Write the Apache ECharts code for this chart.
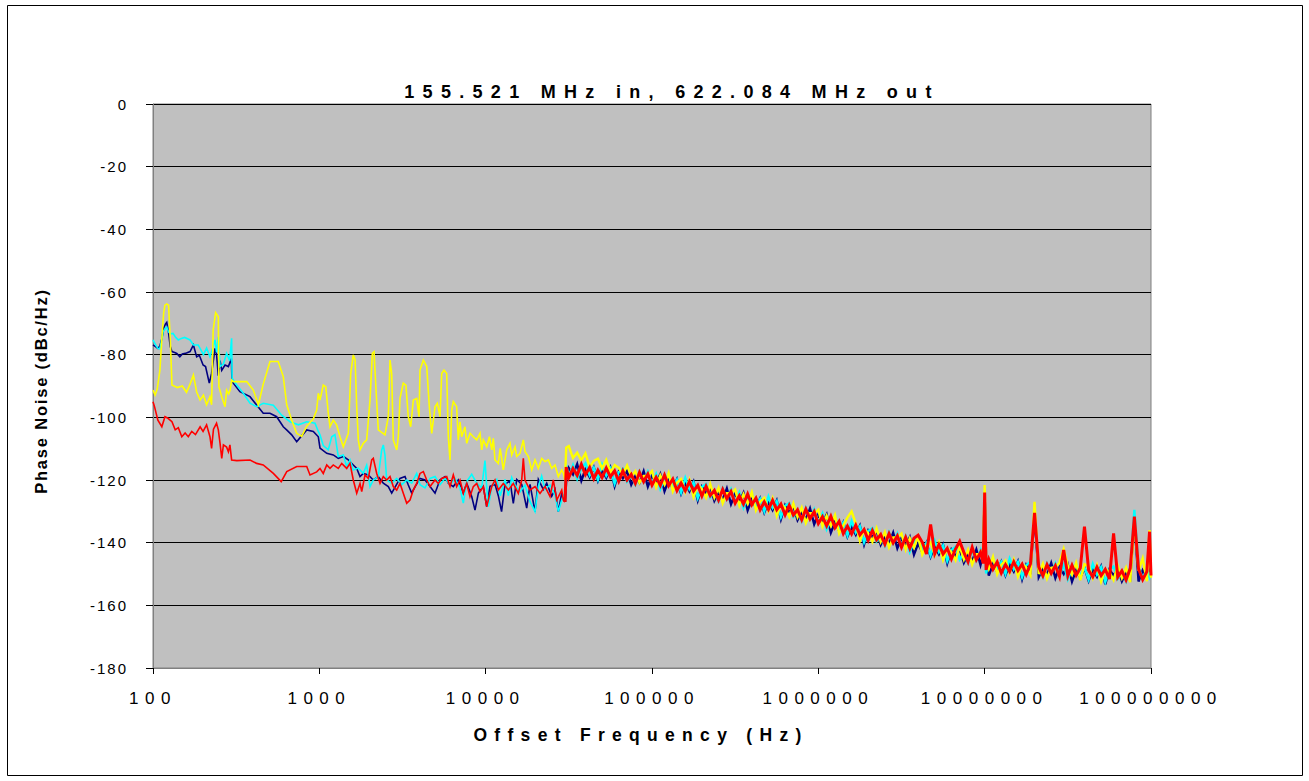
<!DOCTYPE html>
<html>
<head>
<meta charset="utf-8">
<script src="https://cdn.jsdelivr.net/npm/echarts@6/dist/echarts.min.js"></script>
<style>
html,body{margin:0;padding:0;background:#fff;}
#chart{width:1309px;height:781px;}
</style>
</head>
<body>
<div id="chart"></div>
<script>
const titleText = '155.521 MHz in, 622.084 MHz out';
const xAxisTitle = 'Offset Frequency (Hz)';
const yAxisTitle = 'Phase Noise (dBc/Hz)';
const xTickLabels = ['100', '1000', '10000', '100000', '1000000', '10000000', '100000000'];
const yMin = -180, yMax = 0, yStep = 20;

// ---- low-offset traces [Hz, dBc/Hz] ----
const navyLow = [[100,-76.9],[104,-77.5],[107,-78.0],[110,-77.2],[113,-75.0],[116,-71.5],[119,-70.2],[121,-69.7],[124,-73.0],[127,-77.4],[130,-79.0],[135,-79.3],[139,-79.6],[145,-80.7],[150,-79.8],[159,-79.5],[167,-79.0],[175,-76.9],[183,-80.7],[190,-80.2],[200,-83.3],[207,-83.8],[218,-89.1],[225,-86.0],[236,-78.0],[241,-79.8],[247,-86.7],[253,-81.9],[259,-85.0],[271,-83.3],[284,-83.8],[296,-81.2],[298,-87.5],[304,-89.1],[333,-91.8],[383,-93.4],[420,-96.1],[460,-98.7],[505,-98.7],[554,-99.8],[607,-103.0],[636,-104.0],[682,-105.6],[731,-107.8],[780,-106.0],[840,-104.0],[920,-104.5],[986,-106.2],[1009,-109.8],[1108,-111.5],[1213,-112.0],[1300,-113.1],[1394,-112.5],[1494,-113.6],[1600,-115.2],[1678,-116.3],[1756,-118.9],[1838,-117.9],[1970,-118.4],[2111,-120.0],[2262,-118.9],[2424,-121.0],[2598,-122.1],[2723,-124.2],[2865,-122.1],[3055,-119.5],[3274,-118.9],[3426,-121.6],[3592,-124.2],[3765,-122.1],[4030,-119.5],[4319,-120.0],[4632,-122.1],[4960,-124.2],[5316,-119.9],[5695,-118.9],[5961,-121.0],[6389,-122.1],[6846,-120.0],[7337,-124.2],[7691,-121.0],[8243,-125.3],[8627,-129.6],[9040,-124.2],[9679,-122.1],[10146,-128.5],[10620,-122.0],[11380,-121.4],[11912,-125.0],[12460,-130.1],[13070,-121.3],[14006,-120.3],[14660,-127.5],[15370,-119.8],[16470,-121.4],[17650,-129.0],[18480,-121.4],[19800,-130.1],[20730,-119.8],[22210,-123.0],[23280,-121.0],[24950,-125.2],[26120,-123.0],[27340,-130.1],[28660,-124.2],[29990,-127.0]];

const cyanLow = [[100,-75.3],[104,-77.0],[107,-78.0],[110,-78.2],[113,-75.0],[115,-72.7],[119,-71.5],[121,-71.2],[124,-72.8],[128,-73.3],[132,-73.2],[137,-74.5],[142,-75.3],[148,-74.8],[155,-74.5],[167,-75.3],[175,-76.9],[187,-76.9],[201,-80.0],[210,-77.9],[220,-80.7],[236,-75.3],[241,-79.3],[247,-74.3],[253,-83.8],[265,-83.0],[277,-79.6],[289,-81.9],[297,-74.8],[299,-87.5],[319,-89.7],[349,-92.3],[383,-95.5],[420,-96.6],[460,-95.5],[529,-96.1],[594,-99.3],[666,-101.4],[748,-102.4],[840,-101.4],[942,-101.9],[986,-104.5],[1009,-105.6],[1056,-109.0],[1132,-110.4],[1187,-106.2],[1241,-105.5],[1300,-112.5],[1394,-112.0],[1461,-115.7],[1529,-113.6],[1600,-116.8],[1715,-116.2],[1838,-117.9],[1926,-115.3],[2017,-122.1],[2111,-120.0],[2262,-118.9],[2371,-110.4],[2424,-108.8],[2481,-112.0],[2540,-120.0],[2723,-121.0],[2919,-119.5],[3129,-121.5],[3352,-120.0],[3592,-121.0],[3850,-117.9],[4030,-121.5],[4319,-122.5],[4632,-119.5],[4960,-118.9],[5316,-121.5],[5695,-119.5],[6104,-121.5],[6540,-119.5],[7009,-122.5],[7337,-127.4],[7691,-120.5],[8243,-118.2],[8837,-121.0],[9467,-122.5],[9906,-113.8],[10146,-122.1],[10380,-128.5],[10880,-122.1],[11660,-119.8],[12230,-125.0],[13070,-119.8],[13690,-125.0],[14340,-119.2],[15020,-121.6],[16080,-123.8],[17230,-121.6],[18480,-126.9],[19800,-130.1],[20730,-122.1],[21710,-118.7],[22740,-123.0],[24380,-121.6],[26120,-124.8],[27340,-130.1],[28660,-126.4],[29990,-124.0]];

const yellowLow = [[100,-91.3],[103,-92.9],[106,-91.0],[110,-85.0],[113,-75.0],[116,-66.5],[118,-64.2],[121,-63.8],[124,-64.2],[127,-75.0],[130,-89.7],[140,-90.5],[150,-90.0],[159,-92.0],[167,-89.4],[175,-86.5],[183,-91.9],[192,-94.5],[201,-92.9],[210,-96.0],[220,-93.4],[225,-96.0],[230,-72.1],[238,-66.6],[247,-67.9],[249,-90.2],[259,-93.4],[271,-96.6],[277,-91.3],[285,-92.5],[291,-91.3],[297,-88.1],[304,-88.6],[366,-88.6],[401,-91.3],[430,-96.0],[460,-89.4],[505,-82.2],[566,-82.2],[607,-87.0],[637,-96.0],[682,-100.9],[731,-105.1],[783,-106.1],[840,-102.8],[920,-100.5],[964,-97.7],[986,-92.3],[1009,-94.5],[1056,-89.7],[1093,-90.2],[1132,-98.7],[1159,-103.0],[1213,-100.9],[1270,-102.4],[1331,-106.2],[1394,-109.4],[1494,-105.1],[1544,-86.0],[1600,-80.1],[1640,-81.7],[1678,-96.6],[1715,-107.2],[1756,-110.4],[1838,-108.3],[1926,-107.2],[2017,-94.5],[2083,-79.6],[2132,-79.1],[2192,-91.3],[2262,-104.0],[2371,-104.8],[2481,-105.6],[2598,-99.8],[2660,-81.7],[2723,-86.0],[2784,-107.2],[2919,-110.4],[2985,-106.2],[3055,-93.9],[3197,-89.1],[3315,-89.7],[3426,-99.8],[3542,-103.0],[3673,-94.5],[3850,-94.0],[3975,-99.8],[4030,-84.9],[4219,-81.7],[4422,-83.8],[4584,-96.6],[4738,-105.1],[4960,-96.6],[5121,-95.5],[5316,-99.8],[5442,-86.0],[5617,-84.9],[5831,-86.0],[5961,-106.2],[6104,-113.6],[6249,-97.7],[6389,-95.0],[6690,-96.6],[6846,-107.2],[7009,-101.4],[7170,-106.2],[7511,-103.0],[7691,-108.3],[8050,-105.1],[8427,-106.2],[8837,-107.2],[9247,-105.1],[9467,-110.4],[9679,-107.2],[10146,-109.4],[10530,-106.2],[10880,-110.4],[11115,-106.7],[11380,-113.6],[11912,-114.7],[12230,-109.9],[12764,-116.8],[13380,-110.4],[14006,-108.3],[14340,-112.0],[15020,-109.4],[15370,-112.5],[16080,-111.5],[16843,-107.2],[17230,-110.9],[18060,-112.5],[18918,-116.8],[19800,-113.6],[20730,-116.3],[21720,-113.1],[22740,-114.1],[23810,-113.6],[24950,-116.3],[26120,-115.2],[27340,-118.9],[28660,-116.8],[29320,-117.9],[29990,-120.0]];

const redLow = [[100,-95.0],[102,-96.5],[107,-100.9],[113,-103.0],[118,-99.8],[123,-100.3],[130,-101.4],[136,-104.0],[142,-103.3],[149,-106.2],[156,-105.0],[163,-106.2],[171,-104.5],[180,-105.5],[192,-103.0],[200,-104.5],[210,-102.4],[220,-106.2],[225,-109.9],[231,-103.8],[241,-101.9],[247,-104.0],[253,-108.3],[259,-113.1],[265,-108.8],[277,-109.5],[284,-111.0],[290,-108.8],[297,-113.6],[319,-113.8],[383,-113.6],[420,-114.7],[460,-115.2],[529,-117.9],[590,-120.5],[637,-117.3],[731,-115.7],[840,-115.7],[879,-118.4],[964,-117.4],[1009,-116.3],[1056,-117.9],[1108,-115.2],[1159,-116.3],[1213,-115.2],[1300,-116.3],[1363,-114.7],[1461,-116.3],[1529,-114.7],[1600,-120.0],[1678,-124.2],[1756,-121.1],[1798,-123.7],[1882,-118.4],[1970,-119.5],[2065,-113.6],[2111,-113.1],[2213,-117.9],[2317,-121.1],[2424,-118.9],[2540,-120.0],[2660,-118.9],[2784,-122.1],[2919,-123.2],[3055,-121.1],[3197,-124.2],[3352,-127.4],[3508,-126.4],[3673,-123.2],[3850,-121.1],[4030,-117.9],[4219,-117.3],[4422,-120.0],[4632,-122.1],[4960,-120.0],[5193,-121.1],[5442,-119.5],[5831,-118.9],[6104,-122.1],[6389,-118.4],[6695,-122.1],[7009,-120.0],[7337,-124.2],[7691,-121.1],[8050,-125.3],[8427,-122.1],[8837,-121.1],[9247,-123.7],[9679,-122.1],[10146,-128.5],[10620,-124.2],[10880,-122.1],[11380,-120.0],[11912,-123.2],[12764,-121.1],[13690,-123.2],[14660,-121.1],[15710,-124.3],[16470,-120.0],[16843,-113.1],[17230,-120.0],[18480,-123.2],[19800,-122.1],[21220,-124.3],[22740,-122.1],[24380,-125.3],[25510,-120.0],[26740,-126.4],[28660,-123.2],[29300,-126.4],[29990,-127.0]];

// ---- high-offset region: shared measurement frequencies [Hz] ----
const hfFreq = [
 30500,31600,33500,35500,37600,39800,42200,44700,47300,50100,
 53100,56200,59600,63100,66800,70800,75000,79400,84100,89100,
 94400,100000,105900,112200,118900,125900,133400,141300,149600,158500,
 167900,177800,188400,199500,211300,223900,237100,251200,266100,281800,
 298500,316200,335000,354800,375800,398100,421700,446700,473200,501200,
 530900,562300,595700,631000,668300,707900,749900,794300,841400,891300,
 944100,1000000,1059000,1122000,1189000,1259000,1334000,1413000,1496000,1585000,
 1679000,1778000,1884000,1995000,2113000,2239000,2371000,2512000,2661000,2818000,
 2985000,3162000,3350000,3548000,3758000,3981000,4217000,4467000,4732000,5012000,
 5309000,5623000,5957000,6310000,6683000,7079000,7499000,7943000,8414000,8913000,
 9441000,9800000,10000000,10200000,10590000,11220000,11890000,12590000,13340000,14130000,
 14960000,15850000,16790000,17780000,18840000,19950000,21130000,22390000,23710000,25120000,
 26610000,28180000,29850000,31620000,33500000,35480000,37580000,39810000,42170000,44670000,
 47320000,50120000,53090000,56230000,59570000,63100000,66830000,70790000,74990000,79430000,
 84140000,89130000,94410000,98000000,100000000
];

const navyHigh = [
 -119.9,-116.2,-118.2,-114.9,-120.2,-116.6,-119.1,-116.0,-120.3,-116.9,
 -119.3,-116.1,-121.9,-117.4,-119.4,-117.1,-121.5,-118.7,-120.9,-117.2,
 -122.1,-118.6,-121.0,-118.1,-123.6,-120.1,-122.8,-119.8,-124.4,-121.1,
 -123.6,-120.6,-126.5,-122.1,-124.3,-122.1,-126.6,-124.0,-126.3,-122.7,
 -127.7,-124.4,-126.9,-124.1,-129.7,-126.2,-128.9,-125.9,-130.4,-127.1,
 -129.6,-126.6,-132.5,-128.1,-130.4,-128.3,-132.8,-130.3,-132.6,-129.1,
 -134.1,-130.9,-133.6,-131.0,-136.8,-133.5,-136.3,-133.5,-138.1,-134.9,
 -137.5,-134.6,-140.6,-136.2,-138.4,-136.2,-140.7,-138.1,-140.4,-136.8,
 -141.8,-138.5,-141.0,-138.2,-143.8,-140.3,-143.0,-140.0,-144.5,-141.2,
 -143.7,-140.7,-146.6,-142.2,-144.3,-142.0,-146.4,-143.7,-145.9,-142.2,
 -147.1,-143.6,-124.5,-145.1,-150.5,-146.8,-149.3,-146.1,-150.4,-146.9,
 -149.2,-146.0,-151.7,-147.1,-149.1,-131.0,-151.0,-148.2,-150.3,-146.5,
 -151.3,-147.8,-150.0,-147.0,-152.4,-148.7,-151.2,-148.0,-152.2,-148.6,
 -150.9,-147.6,-153.3,-148.6,-150.5,-148.1,-152.3,-149.5,-151.5,-132.5,
 -152.4,-148.8,-151.1,-149.0,-151.0
];

const cyanHigh = [
 -115.2,-118.9,-115.3,-119.6,-116.2,-114.7,-118.5,-116.1,-119.9,-115.1,
 -118.6,-116.3,-121.2,-117.5,-116.4,-120.5,-118.5,-121.5,-117.3,-120.6,
 -117.4,-121.3,-118.1,-122.8,-119.6,-118.2,-122.2,-119.9,-124.0,-119.3,
 -122.9,-120.8,-125.8,-122.2,-121.3,-125.5,-123.6,-126.8,-122.7,-126.1,
 -123.0,-127.1,-124.0,-128.8,-125.7,-124.3,-128.3,-126.0,-130.0,-125.3,
 -128.9,-126.8,-131.8,-128.2,-127.4,-131.7,-129.8,-133.1,-129.0,-132.5,
 -129.4,-133.6,-130.7,-135.7,-132.8,-131.6,-135.7,-133.6,-137.7,-133.1,
 -136.8,-134.8,-139.9,-136.3,-135.4,-139.6,-137.7,-140.9,-136.8,-140.2,
 -137.1,-141.2,-138.1,-142.9,-139.8,-138.4,-142.4,-140.1,-144.1,-139.4,
 -143.0,-140.9,-145.9,-142.3,-141.3,-145.4,-143.4,-146.5,-142.3,-145.6,
 -142.4,-146.3,-124.5,-149.8,-146.5,-144.9,-148.7,-146.2,-150.0,-145.1,
 -148.5,-146.2,-151.0,-147.2,-146.1,-130.0,-148.0,-151.0,-146.7,-149.9,
 -146.6,-150.5,-147.1,-151.7,-148.4,-146.8,-150.6,-147.9,-151.8,-146.8,
 -150.2,-147.8,-152.6,-148.7,-147.6,-151.5,-149.3,-152.3,-147.9,-129.5,
 -147.7,-151.5,-148.2,-151.0,-149.4
];

const yellowHigh = [
 -109.7,-109.2,-113.0,-111.3,-113.7,-111.5,-115.8,-113.9,-113.2,-116.3,
 -113.6,-117.6,-115.2,-116.1,-118.2,-115.4,-118.8,-117.2,-120.9,-118.7,
 -118.6,-117.2,-122.2,-118.5,-121.4,-117.8,-123.6,-120.8,-119.7,-123.8,
 -119.9,-125.4,-121.7,-122.9,-125.6,-121.3,-125.6,-122.5,-127.4,-124.2,
 -124.2,-123.0,-128.1,-124.5,-127.5,-123.9,-129.7,-126.9,-125.7,-129.8,
 -125.9,-131.4,-127.7,-128.9,-131.7,-127.5,-131.8,-128.8,-133.7,-130.6,
 -130.6,-129.5,-134.8,-131.4,-134.6,-131.2,-137.1,-134.5,-132.0,-130.0,
 -133.8,-139.4,-135.8,-137.0,-139.7,-135.4,-139.7,-136.6,-141.5,-138.3,
 -138.3,-137.1,-142.2,-138.6,-141.6,-138.0,-143.8,-141.0,-139.8,-143.9,
 -140.0,-145.5,-141.8,-143.0,-145.6,-141.2,-145.4,-142.2,-147.0,-143.7,
 -143.6,-142.2,-121.6,-145.5,-148.3,-144.5,-150.1,-147.1,-145.7,-149.6,
 -145.5,-150.8,-146.9,-147.9,-150.4,-127.0,-150.0,-146.7,-151.4,-148.0,
 -147.8,-146.4,-142.0,-147.4,-150.2,-146.4,-152.0,-146.9,-147.5,-151.3,
 -147.2,-152.4,-148.5,-149.4,-151.9,-147.3,-151.3,-148.0,-152.6,-133.0,
 -148.9,-145.0,-152.3,-136.0,-151.2
];

const redHigh = [
 -115.9,-119.2,-116.3,-118.5,-115.0,-118.3,-116.0,-119.6,-116.9,-119.2,
 -116.2,-119.0,-117.1,-120.4,-117.1,-120.0,-118.2,-121.1,-117.6,-120.5,
 -118.1,-121.6,-119.1,-121.7,-118.4,-121.8,-119.7,-123.4,-121.0,-123.4,
 -120.5,-123.5,-121.7,-125.1,-122.0,-125.0,-123.3,-126.4,-123.0,-126.0,
 -123.7,-127.4,-125.0,-127.7,-124.5,-127.9,-125.8,-129.5,-127.0,-129.4,
 -126.5,-129.5,-127.7,-131.1,-128.1,-131.2,-129.5,-132.7,-129.3,-132.4,
 -130.1,-133.9,-131.7,-134.6,-131.6,-135.2,-133.2,-137.1,-134.7,-137.2,
 -134.4,-137.5,-135.8,-139.2,-136.1,-139.1,-137.4,-140.5,-137.1,-140.1,
 -137.8,-141.5,-138.3,-141.8,-138.6,-137.6,-139.9,-143.6,-134.2,-143.5,
 -140.6,-143.6,-141.8,-145.2,-142.0,-139.6,-143.1,-146.1,-141.5,-145.5,
 -143.1,-146.6,-124.0,-148.7,-145.3,-148.5,-146.2,-149.7,-147.0,-149.2,
 -146.1,-148.9,-146.9,-150.1,-146.8,-130.5,-147.7,-150.6,-147.0,-149.8,
 -147.3,-150.8,-142.3,-150.6,-147.2,-150.4,-148.1,-134.9,-148.8,-150.9,
 -147.8,-150.5,-148.5,-151.6,-137.0,-151.0,-149.0,-151.9,-148.2,-131.7,
 -148.4,-151.8,-149.2,-136.5,-150.5
];

const seriesColors = { navy: '#000080', cyan: '#00FFFF', yellow: '#FFFF00', red: '#FF0000' };

// the dense (>30 kHz) part of each trace continues from its last low-offset point
function highTrace(low, high) {
  return [low[low.length - 1]].concat(hfFreq.map((f, i) => [f, high[i]]));
}

const FONT = "'Liberation Sans', Arial, sans-serif";
// letter spacing per font size (the reference chart uses widely spaced text)
const spacingBySize = { 18: 8.3, 17: 6.5, 17.5: 7.3, 15: 2, 16.5: 1.8 };

const chart = echarts.init(document.getElementById('chart'), null, { renderer: 'svg' });

function applySpacing() {
  document.querySelectorAll('#chart svg text').forEach(t => {
    const fs = parseFloat(getComputedStyle(t).fontSize);
    if (spacingBySize[fs] != null) t.setAttribute('letter-spacing', spacingBySize[fs]);
  });
}
chart.on('finished', applySpacing);

function lineSeries(name, data, color, width) {
  return {
    name, type: 'line', data, showSymbol: false, symbol: 'none',
    lineStyle: { color, width, join: 'miter', miterLimit: 4 }, itemStyle: { color },
    animation: false, silent: true, sampling: false, clip: true
  };
}

chart.setOption({
  animation: false,
  backgroundColor: '#ffffff',
  title: {
    text: titleText,
    left: 672, top: 83, textAlign: 'center', padding: 0,
    textStyle: { fontFamily: FONT, fontSize: 18, fontWeight: 'bold', color: '#000' }
  },
  graphic: [{
    type: 'rect', silent: true,
    shape: { x: 7.5, y: 5.5, width: 1295, height: 770 },
    style: { fill: 'none', stroke: '#000', lineWidth: 1 }
  }],
  grid: {
    left: 153, right: 158, top: 104, bottom: 113,
    show: true, backgroundColor: '#C0C0C0', borderColor: '#808080', borderWidth: 1,
    containLabel: false, outerBoundsMode: 'none'
  },
  xAxis: {
    type: 'log', logBase: 10, min: 100, max: 100000000,
    name: xAxisTitle, nameLocation: 'middle', nameGap: 58,
    nameTextStyle: { fontFamily: FONT, fontSize: 17.5, fontWeight: 'bold', color: '#000', padding: [0, 22, 0, 0] },
    axisLine: { show: true, onZero: false, lineStyle: { color: '#808080', width: 1 } },
    axisTick: { show: true, inside: false, length: 6, lineStyle: { color: '#000' } },
    minorTick: { show: false },
    splitLine: { show: false },
    axisLabel: {
      margin: 22, fontFamily: FONT, fontSize: 17, color: '#000',
      formatter: v => {
        const k = Math.round(Math.log10(v)) - 2;
        return xTickLabels[k] !== undefined ? xTickLabels[k] : '';
      }
    }
  },
  yAxis: {
    type: 'value', min: yMin, max: yMax, interval: yStep,
    name: yAxisTitle, nameLocation: 'middle', nameGap: 104, nameRotate: 90,
    nameTextStyle: { fontFamily: FONT, fontSize: 16.5, fontWeight: 'bold', color: '#000', padding: [0, 10, 0, 0] },
    axisLine: { show: true, lineStyle: { color: '#808080', width: 1 } },
    axisTick: { show: true, inside: false, length: 7, lineStyle: { color: '#000' } },
    splitLine: { show: true, lineStyle: { color: '#000', width: 1 } },
    axisLabel: { margin: 25, fontFamily: FONT, fontSize: 15, color: '#000' }
  },
  series: [
    lineSeries('Navy', navyLow, seriesColors.navy, 1.6),
    lineSeries('Cyan', cyanLow, seriesColors.cyan, 1.6),
    lineSeries('Yellow', yellowLow, seriesColors.yellow, 1.6),
    lineSeries('Red', redLow, seriesColors.red, 1.6),
    lineSeries('Navy', highTrace(navyLow, navyHigh), seriesColors.navy, 2.4),
    lineSeries('Cyan', highTrace(cyanLow, cyanHigh), seriesColors.cyan, 2.4),
    lineSeries('Yellow', highTrace(yellowLow, yellowHigh), seriesColors.yellow, 2.4),
    lineSeries('Red', highTrace(redLow, redHigh), seriesColors.red, 3.0)
  ]
});
applySpacing();
setTimeout(applySpacing, 50);
</script>
</body>
</html>
